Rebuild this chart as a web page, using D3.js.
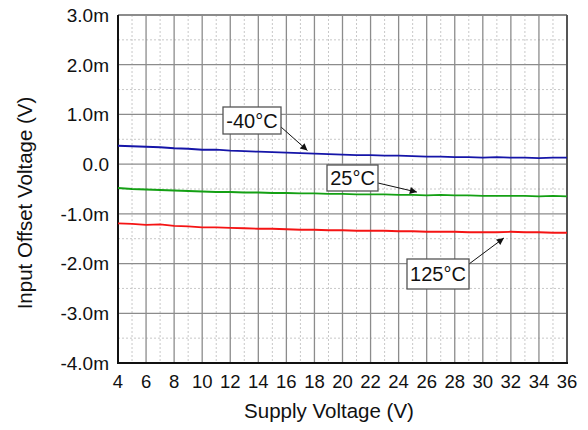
<!DOCTYPE html>
<html><head><meta charset="utf-8">
<script src="https://cdn.jsdelivr.net/npm/d3@7"></script>
<style>body{margin:0;background:#fff}svg{display:block;font-family:"Liberation Sans",Arial,sans-serif}</style>
</head><body>
<svg id="c" width="588" height="430"></svg>
<script>
const supplyV = [4,5,6,7,8,9,10,11,12,13,14,15,16,17,18,19,20,21,22,23,24,25,26,27,28,29,30,31,32,33,34,35,36];
const offsetM40 = [0.37,0.36,0.35,0.34,0.32,0.31,0.29,0.29,0.27,0.26,0.25,0.24,0.23,0.22,0.21,0.20,0.19,0.18,0.18,0.17,0.17,0.16,0.15,0.15,0.14,0.14,0.13,0.14,0.13,0.13,0.12,0.13,0.13];
const offset25 = [-0.48,-0.50,-0.51,-0.52,-0.53,-0.54,-0.55,-0.56,-0.56,-0.57,-0.57,-0.58,-0.58,-0.59,-0.59,-0.60,-0.60,-0.61,-0.61,-0.61,-0.62,-0.62,-0.63,-0.62,-0.63,-0.63,-0.64,-0.64,-0.64,-0.64,-0.65,-0.64,-0.65];
const offset125 = [-1.19,-1.20,-1.22,-1.21,-1.24,-1.25,-1.27,-1.27,-1.28,-1.29,-1.30,-1.30,-1.31,-1.32,-1.32,-1.33,-1.33,-1.34,-1.34,-1.34,-1.35,-1.35,-1.36,-1.36,-1.36,-1.37,-1.37,-1.37,-1.36,-1.37,-1.37,-1.38,-1.38];
const xTicks = [4,6,8,10,12,14,16,18,20,22,24,26,28,30,32,34,36];
const yTicks = [3,2,1,0,-1,-2,-3,-4];
const yTickLabels = ["3.0m","2.0m","1.0m","0.0","-1.0m","-2.0m","-3.0m","-4.0m"];
const seriesNames = ["-40°C","25°C","125°C"];
const seriesColors = ["#1515a8","#14a014","#f51414"];

const svg = d3.select("#c");
const L=118,R=567,T=15,B=363;
const x = d3.scaleLinear().domain([4,36]).range([L,R]);
const y = d3.scaleLinear().domain([-4,3]).range([B,T]);

// minor grid
const minorX = d3.range(5,36,2), minorY = d3.range(-3.5,3,1);
svg.append("g").selectAll("line").data(minorX).join("line")
  .attr("x1",d=>x(d)).attr("x2",d=>x(d)).attr("y1",T).attr("y2",B)
  .attr("stroke","#c8c8c8").attr("stroke-width",1).attr("stroke-dasharray","2,2");
svg.append("g").selectAll("line").data(minorY).join("line")
  .attr("y1",d=>y(d)).attr("y2",d=>y(d)).attr("x1",L).attr("x2",R)
  .attr("stroke","#c8c8c8").attr("stroke-width",1).attr("stroke-dasharray","2,2");
// major grid
svg.append("g").selectAll("line").data(xTicks.slice(1,-1)).join("line")
  .attr("x1",d=>x(d)).attr("x2",d=>x(d)).attr("y1",T).attr("y2",B)
  .attr("stroke","#8c8c8c").attr("stroke-width",1.3);
svg.append("g").selectAll("line").data(yTicks.slice(1,-1)).join("line")
  .attr("y1",d=>y(d)).attr("y2",d=>y(d)).attr("x1",L).attr("x2",R)
  .attr("stroke","#8c8c8c").attr("stroke-width",1.3);
// frame
svg.append("line").attr("x1",L).attr("x2",R).attr("y1",T).attr("y2",T).attr("stroke","#8c8c8c").attr("stroke-width",2);
svg.append("line").attr("x1",R).attr("x2",R).attr("y1",T).attr("y2",B).attr("stroke","#555").attr("stroke-width",2);
svg.append("line").attr("x1",L).attr("x2",L).attr("y1",T).attr("y2",B+1).attr("stroke","#111").attr("stroke-width",2);
svg.append("line").attr("x1",L-1).attr("x2",R+1).attr("y1",B).attr("y2",B).attr("stroke","#111").attr("stroke-width",2);

// tick labels
svg.append("g").selectAll("text").data(xTicks).join("text")
  .attr("x",d=>x(d)).attr("y",388).attr("text-anchor","middle")
  .attr("font-size",18.5).attr("fill","#111").text(d=>d);
svg.append("g").selectAll("text").data(yTicks).join("text")
  .attr("x",109).attr("y",d=>y(d)).attr("dy","0.36em").attr("text-anchor","end")
  .attr("font-size",19).attr("fill","#111").text((d,i)=>yTickLabels[i]);

// axis titles
svg.append("text").attr("x",329).attr("y",418).attr("text-anchor","middle")
  .attr("font-size",20.5).attr("fill","#111").text("Supply Voltage (V)");
svg.append("text").attr("transform","translate(32,203) rotate(-90)").attr("text-anchor","middle")
  .attr("font-size",20.5).attr("fill","#111").text("Input Offset Voltage (V)");

// lines
const line = d3.line().x((d,i)=>x(supplyV[i])).y(d=>y(d));
[offsetM40,offset25,offset125].forEach((s,i)=>{
  svg.append("path").datum(s).attr("d",line).attr("fill","none")
    .attr("stroke",seriesColors[i]).attr("stroke-width",1.8);
});

// annotations
svg.append("defs").append("marker").attr("id","ah").attr("viewBox","0 0 10 10")
  .attr("refX",10).attr("refY",5).attr("markerWidth",11).attr("markerHeight",7)
  .attr("markerUnits","userSpaceOnUse").attr("orient","auto")
  .append("path").attr("d","M0,0L10,5L0,10z").attr("fill","#111");
const ann = [
  {name:seriesNames[0], bx:223,by:107,bw:58,bh:27, ax1:281,ay1:127, tx:17.5, ts:0},
  {name:seriesNames[1], bx:327,by:165,bw:51,bh:26, ax1:378,ay1:183, tx:25.3, ts:1},
  {name:seriesNames[2], bx:407,by:259,bw:62,bh:30, ax1:469,ay1:264, tx:31.5, ts:2}
];
const sers=[offsetM40,offset25,offset125];
ann.forEach(a=>{
  const idx = supplyV.findIndex(v=>v>=a.tx);
  const v0 = sers[a.ts][Math.max(idx-1,0)], v1 = sers[a.ts][idx];
  const tv = v0 + (v1-v0)*(a.tx - supplyV[Math.max(idx-1,0)]);
  const ty = y(tv) + (a.ts===2 ? 6 : -3);
  svg.append("line").attr("x1",a.ax1).attr("y1",a.ay1).attr("x2",x(a.tx)).attr("y2",ty)
    .attr("stroke","#111").attr("stroke-width",1).attr("marker-end","url(#ah)");
  svg.append("rect").attr("x",a.bx).attr("y",a.by).attr("width",a.bw).attr("height",a.bh)
    .attr("fill","#fff").attr("stroke","#555").attr("stroke-width",1.3);
  svg.append("text").attr("x",a.bx+a.bw/2).attr("y",a.by+a.bh/2).attr("dy","0.36em")
    .attr("text-anchor","middle").attr("font-size",20).attr("fill","#111").text(a.name);
});
</script>
</body></html>
